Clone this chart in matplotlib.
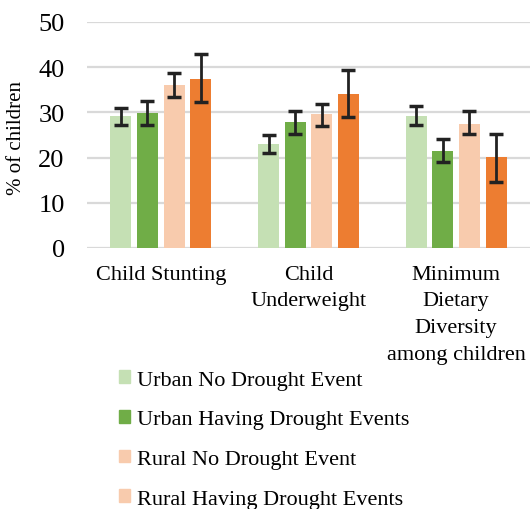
import numpy as np
import matplotlib.pyplot as plt
from matplotlib.patches import Patch

# categories and series
categories = ["Child Stunting", "Child\nUnderweight", "Minimum\nDietary\nDiversity\namong children"]
series = ["Urban No Drought Event", "Urban Having Drought Events",
          "Rural No Drought Event", "Rural Having Drought Events"]
colors = ["#c5e0b4", "#70ad47", "#f8cbad", "#ed7d31"]
legend_colors = ["#c5e0b4", "#70ad47", "#f8cbad", "#f8cbad"]

# values (%), one list per series
urban_no = [29.1, 23.0, 29.1]
urban_yes = [29.8, 27.8, 21.4]
rural_no = [36.0, 29.6, 27.4]
rural_yes = [37.3, 34.0, 20.1]

# confidence interval bounds
urban_no_lo = [27.3, 20.9, 27.1]
urban_no_hi = [31.0, 24.9, 31.3]
urban_yes_lo = [27.3, 25.1, 19.1]
urban_yes_hi = [32.4, 30.2, 24.0]
rural_no_lo = [33.5, 26.9, 25.1]
rural_no_hi = [38.6, 31.9, 30.2]
rural_yes_lo = [32.2, 28.9, 14.5]
rural_yes_hi = [43.0, 39.4, 25.3]

values = [urban_no, urban_yes, rural_no, rural_yes]
lows = [urban_no_lo, urban_yes_lo, rural_no_lo, rural_yes_lo]
highs = [urban_no_hi, urban_yes_hi, rural_no_hi, rural_yes_hi]

plt.rcParams['font.family'] = ['Liberation Serif', 'DejaVu Serif']

fig = plt.figure(figsize=(5.3, 5.1), dpi=100)
ax = fig.add_axes([0.164, 0.512, 0.836, 0.443])

x = np.arange(len(categories))
width = 0.142
step = 0.18
for i, (vals, lo, hi) in enumerate(zip(values, lows, highs)):
    pos = x + (i - 1.5) * step
    vals = np.array(vals)
    yerr = [vals - np.array(lo), np.array(hi) - vals]
    ax.bar(pos, vals, width, color=colors[i], zorder=2)
    ax.errorbar(pos, vals, yerr=yerr, fmt='none', ecolor='#222222',
                elinewidth=2, capsize=5, capthick=2.5, zorder=3)

ax.set_xlim(-0.5, 2.5)
ax.set_ylim(0, 50)
ax.set_yticks([0, 10, 20, 30, 40, 50])
ax.yaxis.grid(True, color='#d9d9d9', linewidth=1.6, zorder=0)
ax.set_axisbelow(True)
for s in ax.spines.values():
    s.set_visible(False)
ax.tick_params(axis='both', length=0, labelsize=16)
ax.tick_params(axis='y', pad=16, labelsize=19)
ax.tick_params(axis='x', pad=12)
ax.set_xticks(x)
ax.set_xticklabels(categories, linespacing=1.55, va='top')

# y axis title
fig.text(0.032, 0.73, "% of children", rotation=90, ha='center', va='center', fontsize=15)

handles = [Patch(color=c) for c in legend_colors]
fig.legend(handles, series, loc='upper left', bbox_to_anchor=(0.208, 0.289),
           frameon=False, fontsize=16, handlelength=0.5, handleheight=0.5,
           handletextpad=0.3, labelspacing=0.92, borderaxespad=0)

fig.savefig("out.png", dpi=100)
